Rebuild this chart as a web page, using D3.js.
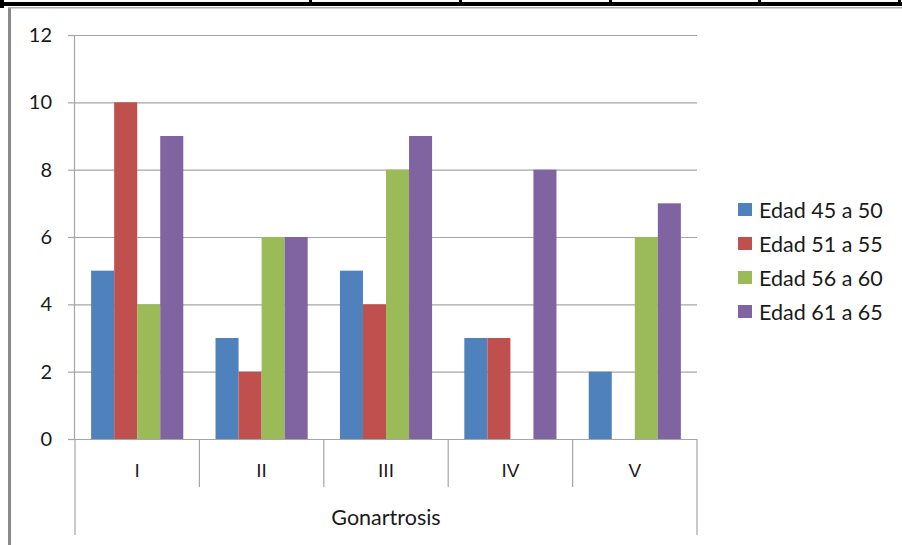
<!DOCTYPE html>
<html>
<head>
<meta charset="utf-8">
<script src="https://cdn.jsdelivr.net/npm/d3@7"></script>
<style>
  html, body { margin: 0; padding: 0; background: #fff; }
  svg { display: block; }
</style>
</head>
<body>
<svg id="chart" width="902" height="545"></svg>
<script>
// Gonartrosis grade by age group
const categories = ["I", "II", "III", "IV", "V"];
const seriesNames = ["Edad 45 a 50", "Edad 51 a 55", "Edad 56 a 60", "Edad 61 a 65"];
const edad45a50 = [5, 3, 5, 3, 2];
const edad51a55 = [10, 2, 4, 3, 0];
const edad56a60 = [4, 6, 8, 0, 6];
const edad61a65 = [9, 6, 9, 8, 7];
const yTicks = [0, 2, 4, 6, 8, 10, 12];
const groupLabel = "Gonartrosis";

const seriesValues = [edad45a50, edad51a55, edad56a60, edad61a65];
const colors = ["#4F81BD", "#C0504D", "#9BBB59", "#8064A2"];

const svg = d3.select("#chart");
const textFont = "Lato, 'Open Sans', sans-serif";
const textColor = "#1a1a1a";

// Page frame: table edge above and the chart's outer border
const frame = svg.append("g");
frame.append("rect").attr("x", 0).attr("y", 2).attr("width", 902).attr("height", 4).attr("fill", "#000");
[0, 309, 459, 609, 758, 898].forEach(px => {
  frame.append("rect").attr("x", px).attr("y", 0).attr("width", 3).attr("height", 6).attr("fill", "#000");
});
frame.append("rect").attr("x", 0).attr("y", 0).attr("width", 4).attr("height", 8).attr("fill", "#000");
frame.append("rect").attr("x", 8).attr("y", 7).attr("width", 3).attr("height", 538).attr("fill", "#8a8a8a");
frame.append("rect").attr("x", 8).attr("y", 7).attr("width", 894).attr("height", 1.5).attr("fill", "#b0b0b0");

const plotLeft = 75, plotRight = 697, plotTop = 35, plotBottom = 439;

const x = d3.scaleBand().domain(categories).range([plotLeft, plotRight]).paddingInner(0).paddingOuter(0);
const xInner = d3.scaleBand().domain(d3.range(seriesNames.length))
  .range([0, x.bandwidth()]).paddingOuter(0.7).paddingInner(0);
const y = d3.scaleLinear().domain([0, 12]).range([plotBottom, plotTop]);

const gridColor = "#a6a6a6";

// Horizontal gridlines
svg.append("g")
  .selectAll("line")
  .data(yTicks.filter(t => t > 0))
  .join("line")
  .attr("x1", plotLeft).attr("x2", plotRight)
  .attr("y1", d => y(d) + 0.5).attr("y2", d => y(d) + 0.5)
  .attr("stroke", gridColor).attr("stroke-width", 1.2);

// Bars
const groups = svg.append("g")
  .selectAll("g")
  .data(categories)
  .join("g")
  .attr("transform", c => `translate(${x(c)},0)`);

groups.selectAll("rect")
  .data((c, ci) => seriesValues.map((vals, si) => ({ si, v: vals[ci] })))
  .join("rect")
  .attr("x", d => xInner(d.si))
  .attr("width", xInner.bandwidth())
  .attr("y", d => y(d.v))
  .attr("height", d => y(0) - y(d.v))
  .attr("fill", d => colors[d.si]);

// Y axis
const yAxis = svg.append("g")
  .attr("transform", `translate(${plotLeft},0)`)
  .call(d3.axisLeft(y).tickValues(yTicks).tickSize(7).tickPadding(16).tickFormat(d3.format("d")));
yAxis.select(".domain").attr("stroke", gridColor).attr("stroke-width", 1.2)
  .attr("d", `M-0.5,${plotTop}V${plotBottom}`);
yAxis.selectAll(".tick line").attr("stroke", gridColor).attr("stroke-width", 1.2);
yAxis.selectAll(".tick text")
  .attr("fill", textColor)
  .style("font-family", textFont)
  .style("font-size", "20px");

// X axis baseline and category dividers
const axisG = svg.append("g");
axisG.append("line")
  .attr("x1", plotLeft - 7).attr("x2", plotRight)
  .attr("y1", plotBottom + 0.5).attr("y2", plotBottom + 0.5)
  .attr("stroke", gridColor).attr("stroke-width", 1.2);

const dividers = categories.map(c => x(c)).concat([plotRight]);
axisG.selectAll("line.div")
  .data(dividers)
  .join("line")
  .attr("class", "div")
  .attr("x1", d => d).attr("x2", d => d)
  .attr("y1", plotBottom)
  .attr("y2", (d, i) => (i === 0 || i === dividers.length - 1) ? 535 : 487)
  .attr("stroke", gridColor).attr("stroke-width", 1.2);

axisG.selectAll("text.cat")
  .data(categories)
  .join("text")
  .attr("class", "cat")
  .attr("x", c => x(c) + x.bandwidth() / 2)
  .attr("y", 477)
  .attr("text-anchor", "middle")
  .attr("fill", textColor)
  .style("font-family", "'Liberation Sans', Arial, sans-serif")
  .style("font-size", "19px")
  .text(c => c);

axisG.append("text")
  .attr("x", (plotLeft + plotRight) / 2)
  .attr("y", 525)
  .attr("text-anchor", "middle")
  .attr("fill", textColor)
  .style("font-family", textFont)
  .style("font-size", "21.5px")
  .text(groupLabel);

// Legend
const legend = svg.append("g")
  .selectAll("g")
  .data(seriesNames)
  .join("g")
  .attr("transform", (d, i) => `translate(738,${210 + i * 34})`);
legend.append("rect")
  .attr("x", 0).attr("y", -7).attr("width", 14).attr("height", 13)
  .attr("fill", (d, i) => colors[i]);
legend.append("text")
  .attr("x", 21).attr("y", 7.5)
  .attr("fill", textColor)
  .style("font-family", textFont)
  .style("font-size", "21.5px")
  .text(d => d);
</script>
</body>
</html>
